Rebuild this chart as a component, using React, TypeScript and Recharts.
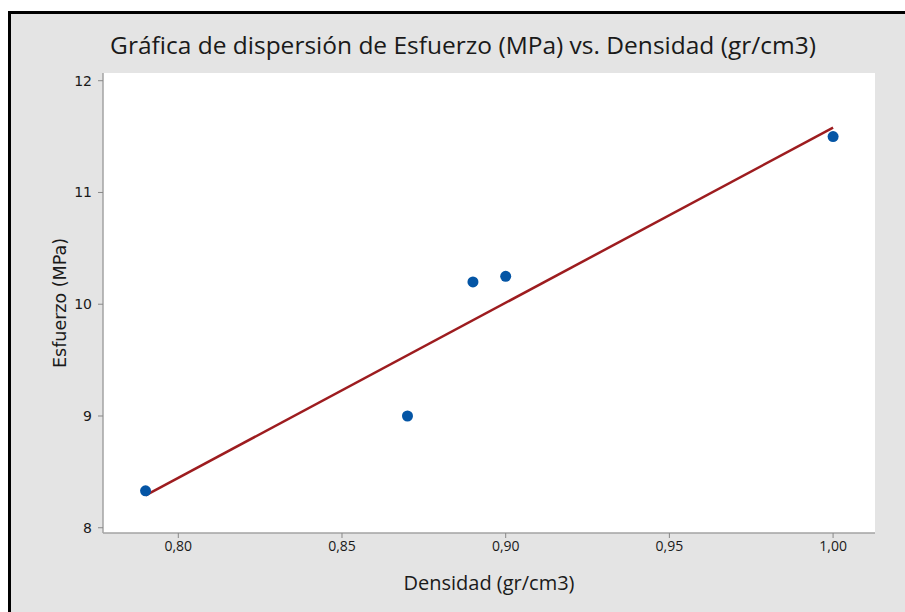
import React from 'react';
import {
  ScatterChart,
  Scatter,
  XAxis,
  YAxis,
  CartesianGrid,
  Label,
} from 'recharts';

// Densidad (gr/cm3) vs Esfuerzo (MPa)
const densidad = [0.79, 0.87, 0.89, 0.9, 1.0];
const esfuerzo = [8.33, 9.0, 10.2, 10.25, 11.5];

// fitted regression line endpoints
const fitX = [0.79, 1.0];
const fitY = [8.29, 11.58];

const xTicks = [0.8, 0.85, 0.9, 0.95, 1.0];
const yTicks = [8, 9, 10, 11, 12];

const points = densidad.map((d, i) => ({ x: d, y: esfuerzo[i] }));
const fitLine = fitX.map((d, i) => ({ x: d, y: fitY[i] }));

const gray = '#a3a3a3';
const bg = '#e4e4e4';

const fmtX = (v: number) => v.toFixed(2).replace('.', ',');

const Dot = (props: any) => (
  <circle cx={props.cx} cy={props.cy} r={5.5} fill="#0455a5" />
);

const App: React.FC = () => {
  return (
    <div style={{ position: 'absolute', left: 0, top: 0, width: 905, height: 612, overflow: 'hidden' }}>
      <div
        style={{
          position: 'absolute',
          left: 8,
          top: 11,
          width: 897,
          height: 601,
          boxSizing: 'border-box',
          borderTop: '3px solid #000',
          borderLeft: '3px solid #000',
          background: bg,
        }}
      />
      <div
        style={{
          position: 'absolute',
          left: 0,
          width: 926,
          top: 28,
          textAlign: 'center',
          fontFamily: '"Open Sans", sans-serif',
          fontSize: 24.5,
          lineHeight: '34px',
          color: '#1a1a1a',
          whiteSpace: 'nowrap',
        }}
      >
        Gráfica de dispersión de Esfuerzo (MPa) vs. Densidad (gr/cm3)
      </div>
      <div style={{ position: 'absolute', left: 0, top: 0 }}>
        <ScatterChart width={905} height={612} margin={{ top: 73, right: 30, bottom: 19, left: 17 }}>
          <CartesianGrid horizontal={false} vertical={false} fill="#ffffff" />
          <XAxis
            xAxisId="top"
            orientation="top"
            type="number"
            dataKey="x"
            domain={[0.777, 1.0128]}
            height={0}
            tick={false}
            tickLine={false}
            axisLine={{ stroke: gray, strokeWidth: 1.5 }}
          />
          <YAxis
            yAxisId="right"
            orientation="right"
            type="number"
            dataKey="y"
            domain={[7.953, 12.069]}
            width={0}
            tick={false}
            tickLine={false}
            axisLine={{ stroke: gray, strokeWidth: 1.5 }}
          />
          <XAxis
            type="number"
            dataKey="x"
            domain={[0.777, 1.0128]}
            ticks={xTicks}
            tickFormatter={fmtX}
            height={60}
            tickSize={5}
            tickMargin={3}
            axisLine={{ stroke: gray, strokeWidth: 1.5 }}
            tickLine={{ stroke: '#888' }}
            tick={{ fill: '#1a1a1a', fontSize: 14, fontFamily: '"Open Sans", sans-serif' }}
          >
            <Label
              value="Densidad (gr/cm3)"
              position="insideBottom"
              offset={3}
              style={{ fill: '#1a1a1a', fontSize: 20, fontFamily: '"Open Sans", sans-serif' }}
            />
          </XAxis>
          <YAxis
            type="number"
            dataKey="y"
            domain={[7.953, 12.069]}
            ticks={yTicks}
            width={86}
            tickSize={5}
            tickMargin={6}
            axisLine={{ stroke: gray, strokeWidth: 1.5 }}
            tickLine={{ stroke: '#888' }}
            tick={{ fill: '#1a1a1a', fontSize: 14, fontFamily: '"DejaVu Sans", sans-serif' }}
          >
            <Label
              value="Esfuerzo (MPa)"
              angle={-90}
              position="center"
              style={{ fill: '#1a1a1a', fontSize: 17.5, fontFamily: '"DejaVu Sans", sans-serif', textAnchor: 'middle' }}
            />
          </YAxis>
          <Scatter
            data={fitLine}
            line={{ stroke: '#9d1c1f', strokeWidth: 2.5 }}
            shape={() => <g />}
            isAnimationActive={false}
          />
          <Scatter data={points} shape={Dot} isAnimationActive={false} />
        </ScatterChart>
      </div>
    </div>
  );
};

export default App;
